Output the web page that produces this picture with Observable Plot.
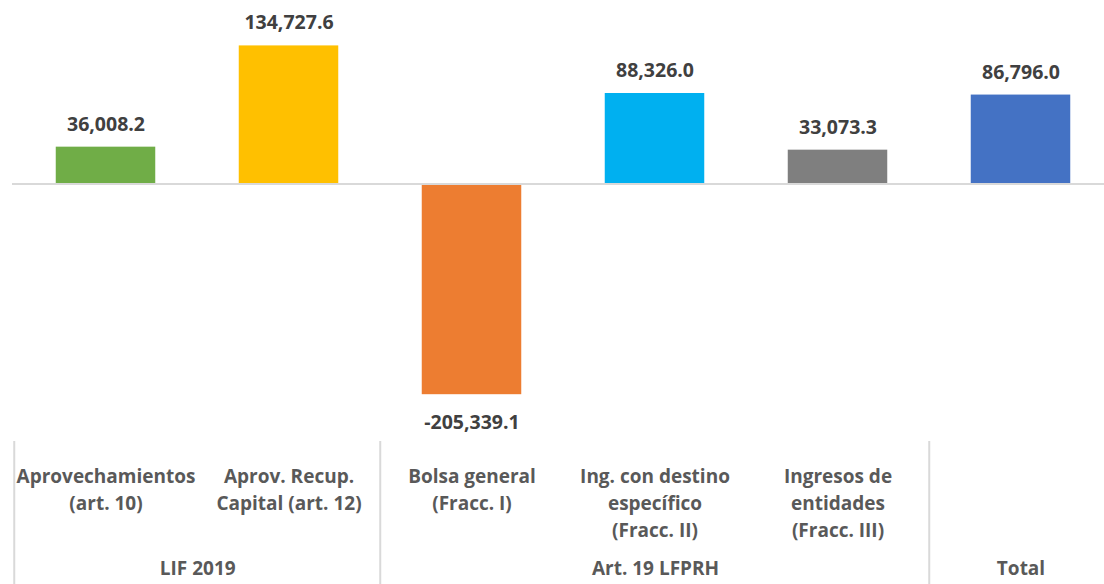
<!DOCTYPE html>
<html>
<head>
<meta charset="utf-8">
<script src="https://cdn.jsdelivr.net/npm/d3@7"></script>
<script src="https://cdn.jsdelivr.net/npm/@observablehq/plot@0.6"></script>
<style>
  html, body { margin: 0; padding: 0; background: #ffffff; }
  #chart svg { display: block; }
</style>
</head>
<body>
<div id="chart"></div>
<script>
// ---- data ----
const categories = ["aprov", "recup", "bolsa", "destino", "entidades", "total"];
const labels = [
  "Aprovechamientos\n(art. 10)",
  "Aprov. Recup.\nCapital (art. 12)",
  "Bolsa general\n(Fracc. I)",
  "Ing. con destino\nespecífico\n(Fracc. II)",
  "Ingresos de\nentidades\n(Fracc. III)",
  ""
];
const values = [36008.2, 134727.6, -205339.1, 88326.0, 33073.3, 86796.0];
const groupNames = ["LIF 2019", "Art. 19 LFPRH", "Total"];
const groupFirst = ["aprov", "bolsa", "total"];
const groupLast = ["recup", "entidades", "total"];
const palette = ["#70AD47", "#FFC000", "#ED7D31", "#00B0F0", "#7F7F7F", "#4472C4"];

const data = categories.map((c, i) => ({cat: c, label: labels[i], value: values[i]}));
const fmt = d3.formatLocale({decimal: ".", thousands: ",", grouping: [3], currency: ["$", ""], minus: "-"}).format(",.1f");

const W = 1104, H = 584;
const xOpts = {type: "band", domain: categories, range: [12, 1113], padding: 0};
const xs = Plot.scale({x: xOpts});
const step = xs.bandwidth;
const barInset = (step - 100) / 2;

const font = "'Open Sans', 'Noto Sans', sans-serif";
const catColor = "#595959";
const valColor = "#404040";

const groupMarks = groupNames.map((g, i) =>
  Plot.text([g], {
    x: () => groupFirst[i],
    text: d => d,
    frameAnchor: "bottom",
    lineAnchor: "top",
    dy: 121,
    dx: (xs.apply(groupLast[i]) - xs.apply(groupFirst[i])) / 2,
    fill: catColor,
    fontSize: 19,
    fontWeight: 700
  })
);

const chart = Plot.plot({
  width: W,
  height: H,
  marginTop: 0,
  marginBottom: 144,
  marginLeft: 12,
  marginRight: 0,
  style: {fontFamily: font, background: "#ffffff", overflow: "visible"},
  x: {...xOpts, axis: null},
  y: {domain: [-250000, 179000], axis: null},
  color: {domain: categories, range: palette},
  marks: [
    Plot.barY(data, {x: "cat", y: "value", fill: "cat", insetLeft: barInset, insetRight: barInset}),
    Plot.ruleY([0], {stroke: "#d9d9d9", strokeWidth: 2}),
    Plot.text(data.filter(d => d.value >= 0), {
      x: "cat", y: "value", text: d => fmt(d.value),
      lineAnchor: "bottom", dy: -16.5,
      fill: valColor, fontSize: 19.5, fontWeight: 700
    }),
    Plot.text(data.filter(d => d.value < 0), {
      x: "cat", y: "value", text: d => fmt(d.value),
      lineAnchor: "top", dy: 20.5,
      fill: valColor, fontSize: 19.5, fontWeight: 700
    }),
    Plot.text(data, {
      x: "cat", text: "label",
      frameAnchor: "bottom", lineAnchor: "top", dy: 23.5, lineHeight: 1.42,
      fill: catColor, fontSize: 19, fontWeight: 700
    }),
    Plot.ruleX(groupFirst, {
      x: d => d, dx: -step / 2,
      insetTop: 441, insetBottom: -144,
      stroke: "#d9d9d9", strokeWidth: 2
    }),
    ...groupMarks
  ]
});
document.getElementById("chart").appendChild(chart);
</script>
</body>
</html>
